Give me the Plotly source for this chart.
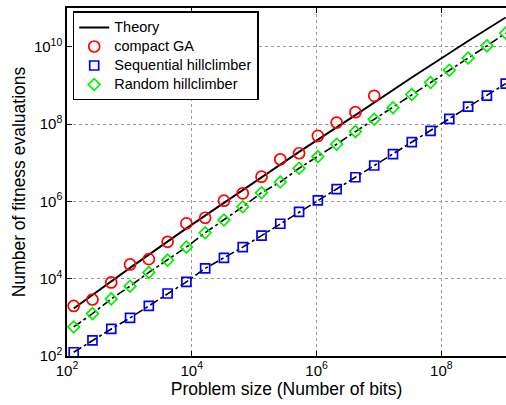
import plotly.graph_objects as go

# Problem sizes (powers of two, 2^7 ... 2^30)
n_all = [2 ** k for k in range(7, 31)]
n_cga = [2 ** k for k in range(7, 24)]

cga_evals = [1970, 2890, 7980, 23300, 32000, 89800, 2.69e5, 3.76e5, 1.04e6,
             1.61e6, 4.34e6, 1.22e7, 1.75e7, 4.92e7, 1.09e8, 2.02e8, 5.35e8]

seq_evals = [125, 255, 500, 965, 1970, 4140, 8260, 1.84e4, 3.46e4, 6.55e4,
             1.30e5, 2.63e5, 5.35e5, 1.06e6, 2.08e6, 4.19e6, 8.46e6, 1.66e7,
             3.40e7, 6.62e7, 1.36e8, 2.82e8, 5.44e8, 1.11e9]

rand_evals = [564, 1250, 3000, 6390, 1.45e4, 3.01e4, 6.55e4, 1.54e5, 3.28e5,
              7.24e5, 1.67e6, 3.16e6, 7.16e6, 1.43e7, 3.0e7, 6.36e7, 1.33e8,
              2.64e8, 5.78e8, 1.18e9, 2.46e9, 5.07e9, 1.05e10, 2.25e10]

theory_n = [2 ** 7, 2 ** 10, 2 ** 13, 2 ** 16, 2 ** 19, 2 ** 22, 2 ** 25, 2 ** 28, 2 ** 30]
theory_evals = [1.7e3, 1.9e4, 2.0e5, 2.0e6, 1.9e7, 1.7e8, 1.6e9, 1.4e10, 5.7e10]

series_names = ["Theory", "compact GA", "Sequential hillclimber", "Random hillclimber"]

x_ticks = [1e2, 1e4, 1e6, 1e8]
x_tick_text = ["10<sup>2</sup>", "10<sup>4</sup>", "10<sup>6</sup>", "10<sup>8</sup>"]
y_ticks = [1e2, 1e4, 1e6, 1e8, 1e10]
y_tick_text = ["10<sup>2</sup>", "10<sup>4</sup>", "10<sup>6</sup>", "10<sup>8</sup>", "10<sup>10</sup>"]

FONT = "Liberation Sans, Arial, Helvetica, sans-serif"


def lg(name):
    return '<span style="font-size:14.5px">' + name + "</span>"


fig = go.Figure()

# dash-dot fit lines (not in legend)
fig.add_trace(go.Scatter(x=n_all, y=seq_evals, mode="lines", showlegend=False,
                         line=dict(color="black", width=1.6, dash="dashdot"), hoverinfo="skip"))
fig.add_trace(go.Scatter(x=n_all, y=rand_evals, mode="lines", showlegend=False,
                         line=dict(color="black", width=1.6, dash="dashdot"), hoverinfo="skip"))

fig.add_trace(go.Scatter(x=theory_n, y=theory_evals, mode="lines", name=lg(series_names[0]),
                         line=dict(color="black", width=1.9)))
fig.add_trace(go.Scatter(x=n_cga, y=cga_evals, mode="markers", name=lg(series_names[1]),
                         marker=dict(symbol="circle-open", size=11, color="#ff0000",
                                     line=dict(width=1.7, color="#ff0000"))))
fig.add_trace(go.Scatter(x=n_all, y=seq_evals, mode="markers", name=lg(series_names[2]),
                         marker=dict(symbol="square-open", size=9, color="#0000ff",
                                     line=dict(width=1.7, color="#0000ff"))))
fig.add_trace(go.Scatter(x=n_all, y=rand_evals, mode="markers", name=lg(series_names[3]),
                         marker=dict(symbol="diamond-open", size=9, color="#00f000",
                                     line=dict(width=1.7, color="#00f000"))))

fig.update_layout(
    width=506, height=405,
    margin=dict(l=67, r=0, t=8, b=49),
    paper_bgcolor="white", plot_bgcolor="white",
    font=dict(family=FONT, size=15, color="black"),
    legend=dict(x=0.013, y=0.99, xanchor="left", yanchor="top",
                bgcolor="white", bordercolor="black", borderwidth=1.5,
                font=dict(family=FONT, size=12), tracegroupgap=0,
                itemwidth=30),
)
fig.update_xaxes(type="log", range=[2, 9.036], tickvals=x_ticks, ticktext=x_tick_text,
                 showline=True, linecolor="black", linewidth=1.5, mirror="ticks",
                 ticks="inside", ticklen=5, tickcolor="black",
                 showgrid=True, gridcolor="#999999", griddash="dot", gridwidth=1,
                 zeroline=False, tickfont=dict(size=15),
                 title=dict(text="Problem size (Number of bits)", font=dict(size=17.5), standoff=2))
fig.update_yaxes(type="log", range=[2, 11], tickvals=y_ticks, ticktext=y_tick_text,
                 showline=True, linecolor="black", linewidth=1.5, mirror=False,
                 ticks="inside", ticklen=5, tickcolor="black",
                 showgrid=True, gridcolor="#999999", griddash="dot", gridwidth=1,
                 zeroline=False, tickfont=dict(size=15),
                 title=dict(text="Number of fitness evaluations", font=dict(size=17.5), standoff=4))

fig.write_html("out.html")
